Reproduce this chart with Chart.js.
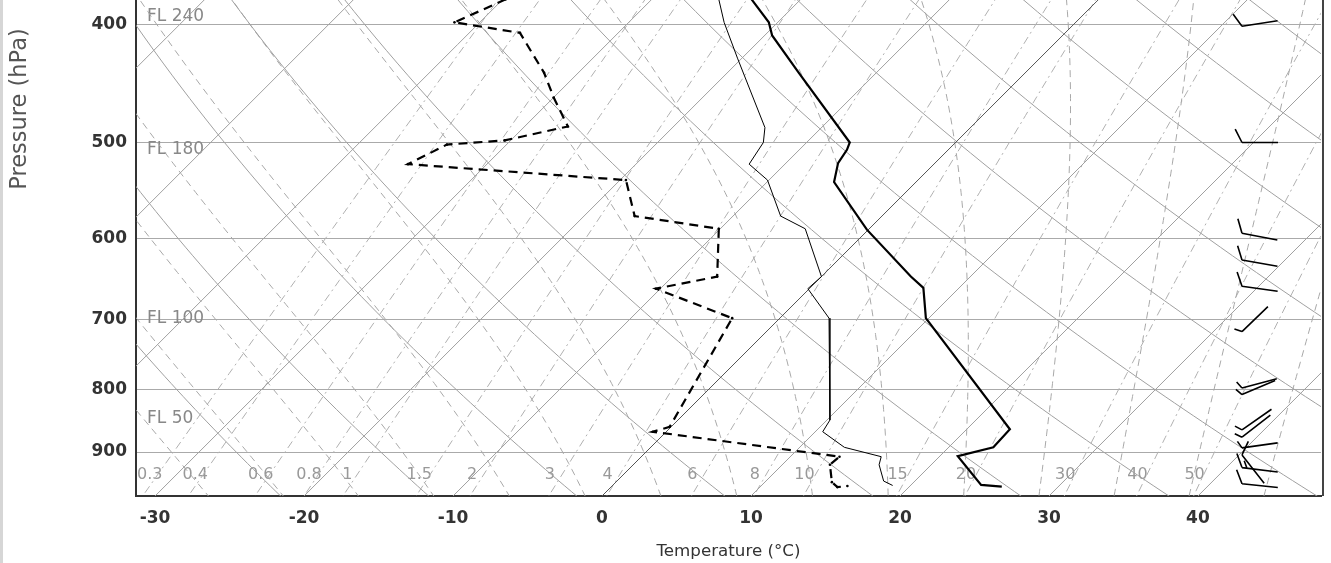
<!DOCTYPE html>
<html>
<head>
<meta charset="utf-8">
<script src="https://cdn.jsdelivr.net/npm/chart.js@4.4.1/dist/chart.umd.min.js"></script>
<style>
  html, body { margin: 0; padding: 0; background: #fff; overflow: hidden; }
  #wrap { position: absolute; left: 0; top: -300px; width: 1331px; height: 863px; }
</style>
</head>
<body>
<div id="wrap"><canvas id="skewt" width="1331" height="863"></canvas></div>
<script>
// sounding (hPa / degC)
var tempP = [381, 398, 408, 438, 500, 507, 520, 539, 590, 645, 659, 698, 862, 892, 907, 958, 961];
var tempC = [-23.3, -20.6, -19.5, -15.2, -7.1, -6.8, -6.5, -5.5, -0.1, 6.0, 7.6, 9.8, 22.9, 23.0, 21.2, 24.7, 26.2];

var dewP = [381, 398, 406, 438, 459, 485, 498, 502, 521, 537, 575, 589, 645, 660, 698, 858, 866, 908, 922, 953, 962, 960];
var dewC = [-39.8, -41.7, -36.6, -32.3, -30.0, -27.1, -30.4, -34.0, -35.3, -19.6, -16.6, -10.1, -7.0, -10.3, -3.2, -0.1, -0.9, 13.3, 13.2, 14.5, 15.2, 15.8];

var wetP = [381, 398, 426, 486, 500, 521, 537, 575, 589, 645, 660, 698, 847, 866, 892, 908, 922, 951, 959];
var wetC = [-25.5, -23.6, -20.3, -13.8, -12.9, -12.4, -10.1, -6.8, -4.3, 0.0, -0.1, 3.3, 10.2, 10.5, 13.0, 16.1, 16.5, 17.9, 18.8];

// winds: pressure, direction (deg, from), speed (kt)
var windP = [401, 500, 594, 625, 657, 716, 797, 807, 863, 875, 893, 905, 927, 956];
var windDir = [261, 270, 281, 280, 278, 226, 255, 247, 235, 232, 262, 322, 277, 276];
var windKt = [10, 10, 10, 10, 10, 5, 5, 5, 5, 5, 5, 10, 15, 10];

// axes and diagram lines
var tempTicks = [-30, -20, -10, 0, 10, 20, 30, 40];
var pressureTicks = [250, 300, 400, 500, 600, 700, 800, 900];
var isotherms = [-80, -70, -60, -50, -40, -30, -20, -10, 0, 10, 20, 30, 40];
var dryAdiabats = [-30, -20, -10, 0, 10, 20, 30, 40, 50, 60, 70, 80, 90, 100, 110, 120, 130, 140];
var moistAdiabats = [-40, -35, -30, -25, -20, -15, -10, -5, 0, 5, 10, 15, 20, 25, 30, 35, 40, 45, 50];
var mixRatios = [0.3, 0.4, 0.6, 0.8, 1, 1.5, 2, 3, 4, 6, 8, 10, 15, 20, 30, 40, 50];
var flightLevels = [50, 100, 180, 240];

var P_BOT = 978.4, P_TOP = 225;
var T_MIN = -31.28, T_MAX = 48.26;
var SKEW = 35.35;

function skewX(t, p) { return t + SKEW * Math.log(P_BOT / p); }
function satVap(tc) { return 6.112 * Math.exp(17.67 * tc / (tc + 243.5)); }
function dewFromMix(w, p) {
    var l = Math.log((w * p / (622 + w)) / 6.112);
    return 243.5 * l / (17.67 - l);
}
function flPressure(fl) {
    return 1013.25 * Math.pow(1 - 2.25577e-5 * fl * 30.48, 5.25588);
}
function moistLapse(T, p) {
    var es = satVap(T - 273.15), rs = 0.622 * es / (p - es);
    var Rd = 287.04, Cp = 1005.7, L = 2.501e6;
    return (Rd * T + L * rs) / (Cp + L * L * rs * 0.622 / (Rd * T * T)) / p;
}

function profile(ps, ts) {
    return ps.map(function (p, i) { return { x: skewX(ts[i], p), y: p }; });
}

function bgLine(points, color, dash) {
    return {
        data: points, showLine: true, borderColor: color, borderWidth: 1,
        borderDash: dash, pointRadius: 0, order: 10, clip: 0
    };
}

var datasets = [
    { data: profile(tempP, tempC), showLine: true, borderColor: "#000", borderWidth: 2.2, pointRadius: 0, order: 0, clip: 0 },
    { data: profile(dewP, dewC), showLine: true, borderColor: "#000", borderWidth: 2.2, borderDash: [9, 6],
      pointRadius: 1.3, pointBackgroundColor: "#000", pointBorderWidth: 0, order: 1, clip: 0 },
    { data: profile(wetP, wetC), showLine: true, borderColor: "#000", borderWidth: 1, pointRadius: 0, order: 2, clip: 0 }
];

isotherms.forEach(function (t) {
    datasets.push(bgLine([{ x: skewX(t, P_BOT), y: P_BOT }, { x: skewX(t, P_TOP), y: P_TOP }],
        t === 0 ? "#555" : "#a0a0a0", []));
});

dryAdiabats.forEach(function (th) {
    var pts = [];
    for (var p = 1000; p >= P_TOP; p -= 10) {
        pts.push({ x: skewX((th + 273.15) * Math.pow(p / 1000, 0.2857) - 273.15, p), y: p });
    }
    datasets.push(bgLine(pts, "#a0a0a0", []));
});

moistAdiabats.forEach(function (tw) {
    var pts = [], T = tw + 273.15, p = 1000, dp = -2;
    while (p >= P_TOP) {
        if (p % 10 === 0) pts.push({ x: skewX(T - 273.15, p), y: p });
        var k1 = moistLapse(T, p);
        var k2 = moistLapse(T + k1 * dp / 2, p + dp / 2);
        T += k2 * dp;
        p += dp;
    }
    datasets.push(bgLine(pts, "#a8a8a8", [7, 5]));
});

mixRatios.forEach(function (w) {
    var pts = [];
    for (var p = 1000; p >= P_TOP; p -= 25) {
        pts.push({ x: skewX(dewFromMix(w, p), p), y: p });
    }
    datasets.push(bgLine(pts, "#b0b0b0", [8, 4, 2, 4]));
});

var overlay = {
    id: "overlay",
    beforeDatasetsDraw: function (chart) {
        var ctx = chart.ctx, a = chart.chartArea;
        var xs = chart.scales.x, ys = chart.scales.y;
        ctx.save();
        ctx.beginPath();
        ctx.rect(a.left, a.top, a.right - a.left, a.bottom - a.top);
        ctx.clip();
        ctx.fillStyle = "#888";
        ctx.font = '17px "DejaVu Sans"';
        ctx.textAlign = "left";
        ctx.textBaseline = "middle";
        flightLevels.forEach(function (fl) {
            ctx.fillText("FL " + fl, a.left + 11, ys.getPixelForValue(flPressure(fl)) + 1);
        });
        ctx.fillStyle = "#999";
        ctx.font = '16px "DejaVu Sans"';
        ctx.textAlign = "center";
        var yl = ys.getPixelForValue(938) + 1;
        mixRatios.forEach(function (w) {
            var t = dewFromMix(w, P_BOT);
            // labels of the cold lines sit a little right of the line foot
            var nudge = t < -5 ? Math.min(7, -t / 4) : 1;
            ctx.fillText(String(w), xs.getPixelForValue(skewX(t, P_BOT)) + nudge, yl);
        });
        ctx.restore();
    },
    afterDatasetsDraw: function (chart) {
        var ctx = chart.ctx, a = chart.chartArea, ys = chart.scales.y;
        var bx = a.right - 79;
        ctx.save();
        ctx.strokeStyle = "#000";
        ctx.lineWidth = 1.6;
        windP.forEach(function (p, i) {
            var by = ys.getPixelForValue(p);
            var to = (windDir[i] + 180) * Math.PI / 180;
            var ux = Math.sin(to), uy = -Math.cos(to);
            var ang = Math.atan2(uy, ux) - 117 * Math.PI / 180;
            ctx.beginPath();
            ctx.moveTo(bx, by);
            ctx.lineTo(bx + 36 * ux, by + 36 * uy);
            var kt = windKt[i], d = 0;
            function feather(len) {
                var sx = bx + d * ux, sy = by + d * uy;
                ctx.moveTo(sx, sy);
                ctx.lineTo(sx + len * Math.cos(ang), sy + len * Math.sin(ang));
                d += 5;
            }
            while (kt >= 10) { feather(15); kt -= 10; }
            if (kt >= 5) feather(8);
            ctx.stroke();
        });
        // frame
        ctx.fillStyle = "#444";
        ctx.fillRect(a.right + 1, a.top, 2, a.bottom - a.top);
        ctx.fillStyle = "#d6d6d6";
        ctx.fillRect(0, 0, 3, chart.height);
        ctx.restore();
    }
};

var boldTicks = { family: "DejaVu Sans", size: 17, weight: "bold" };

new Chart(document.getElementById("skewt"), {
    type: "scatter",
    data: { datasets: datasets },
    plugins: [overlay],
    options: {
        responsive: false,
        animation: false,
        layout: { padding: { top: 22, right: 10, left: 0, bottom: 0 } },
        plugins: { legend: { display: false }, tooltip: { enabled: false } },
        scales: {
            x: {
                type: "linear",
                min: T_MIN,
                max: T_MAX,
                afterBuildTicks: function (s) { s.ticks = tempTicks.map(function (v) { return { value: v }; }); },
                afterFit: function (s) { s.height = 67; },
                grid: { display: false },
                border: { display: true, color: "#333", width: 2 },
                ticks: { color: "#333", padding: 4, font: boldTicks, autoSkip: false, callback: function (v) { return v; } },
                title: { display: true, text: "Temperature (°C)", color: "#333",
                         font: { family: "DejaVu Sans", size: 16.7 }, padding: { top: 4, bottom: 1 } }
            },
            y: {
                type: "logarithmic",
                reverse: true,
                min: P_TOP,
                max: P_BOT,
                afterBuildTicks: function (s) { s.ticks = pressureTicks.map(function (v) { return { value: v }; }); },
                afterFit: function (s) { s.width = 136; },
                grid: { color: "#aaa", lineWidth: 1, drawTicks: false },
                border: { display: true, color: "#333", width: 2 },
                ticks: { color: "#333", padding: 9, font: boldTicks, autoSkip: false, callback: function (v) { return v; } },
                title: { display: true, text: "Pressure (hPa)", color: "#555",
                         font: { family: "DejaVu Sans", size: 22.5 }, padding: { top: 7, bottom: 4 } }
            }
        }
    }
});
</script>
</body>
</html>
